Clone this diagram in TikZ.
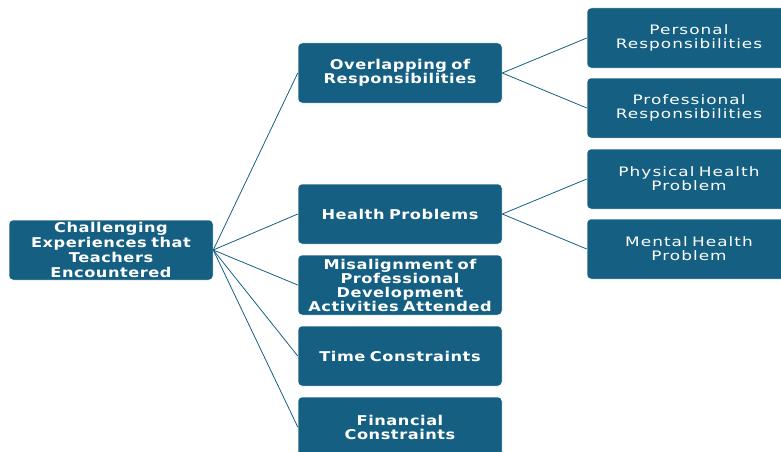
\documentclass[tikz,border=0pt]{standalone}
\usepackage{fontspec}
\usepackage{xcolor}
\setmainfont{DejaVu Sans}
\newfontfamily\headfont[FakeStretch=1.2, LetterSpace=4]{DejaVu Sans}
\newfontfamily\leaffont[FakeStretch=1.3, LetterSpace=8]{DejaVu Sans}
\definecolor{boxteal}{HTML}{156082}
\usetikzlibrary{arrows.meta, positioning}

\begin{document}
\begin{tikzpicture}[x=1pt, y=-1pt,
  card/.style={fill=boxteal, draw=white, line width=0.5pt, rounded corners=4pt,
    minimum width=204pt, minimum height=60pt, inner sep=0pt, text=white,
    align=center, text width=200pt},
  headcard/.style={card, font=\headfont\bfseries\fontsize{13.5}{14}\selectfont},
  leafcard/.style={card, font=\leaffont\fontsize{13}{14}\selectfont},
  link/.style={draw=boxteal, line width=0.8pt}]
\useasboundingbox (0,0) rectangle (781,452);
\clip (0,0) rectangle (781,452);

% root
\node[headcard, font=\headfont\bfseries\fontsize{13.5}{15}\selectfont] (root) at (111,250)
  {Challenging\\Experiences that\\Teachers\\Encountered};

% first level
\node[headcard] (overlap) at (400,73) {Overlapping of\\Responsibilities};
\node[headcard] (health) at (400,214) {Health Problems};
\node[headcard] (misalign) at (400,285) {Misalignment of\\Professional\\Development\\Activities Attended};
\node[headcard] (time) at (400,356) {Time Constraints};
\node[headcard] (finance) at (400,427) {Financial\\Constraints};

% second level
\node[leafcard] (personal) at (689,38) {Personal\\Responsibilities};
\node[leafcard] (profresp) at (689,108) {Professional\\Responsibilities};
\node[leafcard] (physical) at (689,179) {Physical Health\\Problem};
\node[leafcard] (mental) at (689,249) {Mental Health\\Problem};

% connectors
\foreach \kid in {overlap, health, misalign, time, finance}
  \draw[link] (root.east) -- (\kid.west);
\draw[link] (overlap.east) -- (personal.west);
\draw[link] (overlap.east) -- (profresp.west);
\draw[link] (health.east) -- (physical.west);
\draw[link] (health.east) -- (mental.west);
\end{tikzpicture}
\end{document}
